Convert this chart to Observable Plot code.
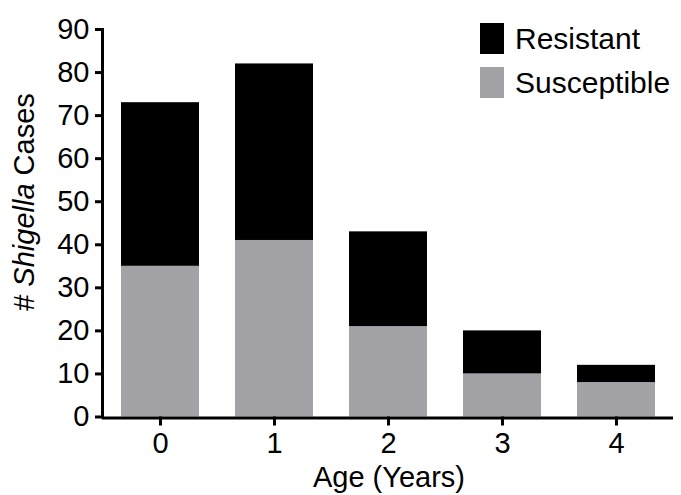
<!DOCTYPE html>
<html>
<head>
<meta charset="utf-8">
<script src="https://cdn.jsdelivr.net/npm/d3@7"></script>
<script src="https://cdn.jsdelivr.net/npm/@observablehq/plot@0.6"></script>
<style>
  html, body { margin: 0; padding: 0; background: #fff; }
  #wrap { position: relative; width: 681px; height: 495px; overflow: hidden; font-family: "Liberation Sans", Arial, Helvetica, sans-serif; }
  #legend { position: absolute; left: 480px; top: 23px; }
  .item { display: flex; align-items: center; height: 31px; margin-bottom: 13px; }
  .sw { width: 24px; height: 31px; margin-right: 11px; }
  .lab { font-size: 30px; color: #000; line-height: 31px; }
  g[aria-label="y-axis tick"], g[aria-label="y-axis tick"] *,
  g[aria-label="x-axis tick"], g[aria-label="x-axis tick"] * { stroke-width: 3px !important; stroke: #000 !important; }
</style>
</head>
<body>
<div id="wrap"></div>
<script>
const ages = ["0", "1", "2", "3", "4"];
const susceptible = [35, 41, 21, 10, 8];
const resistant = [38, 41, 22, 10, 4];
const statuses = ["Susceptible", "Resistant"];
const colors = ["#a3a2a7", "#000000"];
const yTicks = [0, 10, 20, 30, 40, 50, 60, 70, 80, 90];

const data = [];
ages.forEach((a, i) => {
  data.push({age: a, status: "Susceptible", count: susceptible[i]});
  data.push({age: a, status: "Resistant", count: resistant[i]});
});

const font = '"Liberation Sans", Arial, Helvetica, sans-serif';

const chart = Plot.plot({
  width: 681,
  height: 495,
  marginLeft: 102,
  marginRight: 8,
  marginTop: 29,
  marginBottom: 78.5,
  style: {fontFamily: font, background: "#fff", color: "#000", fontSize: "29px"},
  x: {domain: ages, paddingInner: 0.32, paddingOuter: 0.16},
  y: {domain: [0, 90]},
  color: {domain: statuses, range: colors},
  marks: [
    Plot.barY(data, {x: "age", y: "count", fill: "status", order: statuses}),
    Plot.axisY({ticks: yTicks, tickSize: 7, tickPadding: 6, strokeWidth: 3, label: null}),
    Plot.axisX({tickSize: 9, tickPadding: 6, strokeWidth: 3, label: null}),
    Plot.ruleY([0], {strokeWidth: 3, dy: 1}),
    Plot.frame({anchor: "left", strokeWidth: 3})
  ]
});

const wrap = document.getElementById("wrap");
wrap.appendChild(chart);

const svg = d3.select(chart);

// y axis label with italic genus name
const yl = svg.append("text")
  .attr("transform", "translate(34,202) rotate(-90)")
  .attr("text-anchor", "middle")
  .attr("font-family", font)
  .attr("font-size", 29)
  .attr("fill", "#000");
yl.append("tspan").text("# ");
yl.append("tspan").attr("font-style", "italic").text("Shigella");
yl.append("tspan").text(" Cases");

svg.append("text")
  .attr("x", 389).attr("y", 487)
  .attr("text-anchor", "middle")
  .attr("font-family", font)
  .attr("font-size", 29)
  .attr("fill", "#000")
  .text("Age (Years)");

// legend
const legend = document.createElement("div");
legend.id = "legend";
[["Resistant", colors[1]], ["Susceptible", colors[0]]].forEach(([name, c]) => {
  const it = document.createElement("div");
  it.className = "item";
  const sw = document.createElement("div");
  sw.className = "sw";
  sw.style.background = c;
  const lb = document.createElement("span");
  lb.className = "lab";
  lb.textContent = name;
  it.appendChild(sw);
  it.appendChild(lb);
  legend.appendChild(it);
});
wrap.appendChild(legend);
</script>
</body>
</html>
